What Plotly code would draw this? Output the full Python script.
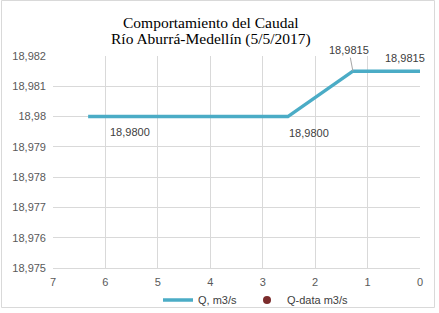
import plotly.graph_objects as go

# ---- data ----
hours = [6.33, 2.52, 1.28, 0]
caudal = [18.98, 18.98, 18.9815, 18.9815]
qdata_hours = [None]
qdata_caudal = [None]
y_ticks = [18.975, 18.976, 18.977, 18.978, 18.979, 18.98, 18.981, 18.982]
y_tick_labels = ["18,975", "18,976", "18,977", "18,978", "18,979", "18,98", "18,981", "18,982"]
x_ticks = [7, 6, 5, 4, 3, 2, 1, 0]
title_lines = ["Comportamiento del Caudal", "Río Aburrá-Medellín (5/5/2017)"]

L, R, T, B = 53, 19, 56, 45
W, H = 439, 313
pw, ph = W - L - R, H - T - B

def px_x(p):
    return (p - L) / pw

def px_y(p):
    return (H - B - p) / ph

fig = go.Figure()
fig.add_trace(go.Scatter(
    x=hours, y=caudal, mode="lines", name="Q, m3/s",
    line=dict(color="#4BACC6", width=3.5), legend="legend",
))
fig.add_trace(go.Scatter(
    x=qdata_hours, y=qdata_caudal, mode="markers", name="Q-data m3/s",
    marker=dict(color="#7B2C2C", size=8), legend="legend2",
))

def fmt(v):
    return f"{v:.4f}".replace(".", ",")

lab_font = dict(family="Liberation Sans, Arial", size=11, color="#404040")
offsets = [(42, -15), (21, -16), None, (-15, 13)]
for i, (xv, yv) in enumerate(zip(hours, caudal)):
    if offsets[i] is None:
        fig.add_annotation(x=xv, y=yv, text=fmt(yv), showarrow=True, arrowhead=0,
                           arrowcolor="#A6A6A6", arrowwidth=1, ax=-4, ay=-21,
                           standoff=0, font=lab_font)
    else:
        dx, dy = offsets[i]
        fig.add_annotation(x=xv, y=yv, text=fmt(yv), showarrow=False,
                           xshift=dx, yshift=dy, font=lab_font)

for j, (line, py) in enumerate(zip(title_lines, [23, 39])):
    fig.add_annotation(xref="paper", yref="paper", x=px_x(211), y=px_y(py),
                       text=line, showarrow=False, xanchor="center", yanchor="middle",
                       font=dict(family="Liberation Serif, Times New Roman", size=15.5, color="#000000"))

fig.add_shape(type="rect", xref="paper", yref="paper",
              x0=px_x(1.5), x1=px_x(434.5), y0=px_y(0.5), y1=px_y(307.5),
              line=dict(color="#D9D9D9", width=1), fillcolor="rgba(0,0,0,0)")

tick_font = dict(family="Liberation Sans, Arial", size=11, color="#595959")
leg_font = dict(family="Liberation Sans, Arial", size=11, color="#404040")
fig.update_layout(
    width=W, height=H,
    margin=dict(l=L, r=R, t=T, b=B, autoexpand=False),
    paper_bgcolor="white", plot_bgcolor="white",
    showlegend=True,
    legend=dict(orientation="h", x=px_x(158), y=px_y(300), xanchor="left", yanchor="middle",
                font=leg_font, bgcolor="rgba(0,0,0,0)"),
    legend2=dict(orientation="h", x=px_x(247), y=px_y(300), xanchor="left", yanchor="middle",
                 font=leg_font, bgcolor="rgba(0,0,0,0)"),
    xaxis=dict(range=[7, 0], tickvals=x_ticks, ticktext=[str(t) for t in x_ticks],
               showgrid=True, gridcolor="#D9D9D9", gridwidth=1, zeroline=False,
               showline=True, linecolor="#D9D9D9", ticks="", tickfont=tick_font,
               ticklabelstandoff=4, automargin=False, fixedrange=True),
    yaxis=dict(range=[18.975, 18.982], tickvals=y_ticks, ticktext=y_tick_labels,
               showgrid=True, gridcolor="#D9D9D9", gridwidth=1, zeroline=False,
               showline=False, ticks="", tickfont=tick_font, ticklabelstandoff=6,
               automargin=False, fixedrange=True),
)

fig.write_html("out.html", config={"displayModeBar": False},
               post_script="document.body.style.margin='0';")
